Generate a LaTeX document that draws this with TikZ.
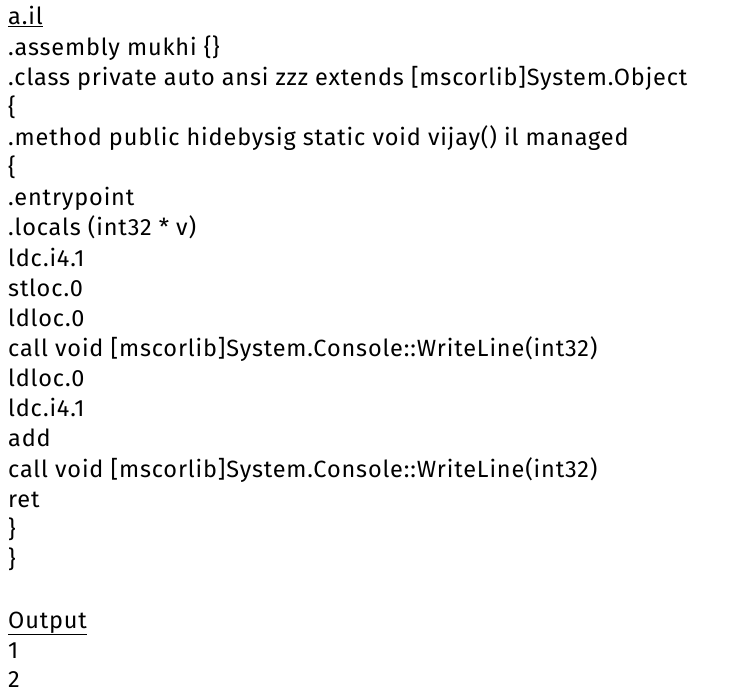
\documentclass[tikz,border=0pt]{standalone}
\usepackage{fontspec}
\newfontfamily\codefont[LetterSpace=3.6]{Fira Sans}
\tikzset{codeline/.style={anchor=base west, inner sep=0pt, font=\codefont\fontsize{23.5}{28}\selectfont}}

\begin{document}
\begin{tikzpicture}[x=1pt,y=1pt]
\useasboundingbox (0,0) rectangle (739,-692);

\node (L-1) at (8,-25) [codeline]{\underline{a.il}};
\node (L-2) at (8,-55.14) [codeline]{.assembly mukhi \{\}};
\node (L-3) at (8,-85.28) [codeline]{.class private auto ansi zzz extends [mscorlib]System.Object};
\node (L-4) at (8,-115.42) [codeline]{\{};
\node (L-5) at (8,-145.56) [codeline]{.method public hidebysig static void vijay() il managed};
\node (L-6) at (8,-175.7) [codeline]{\{};
\node (L-7) at (8,-205.84) [codeline]{.entrypoint};
\node (L-8) at (8,-235.98) [codeline]{.locals (int32 * v)};
\node (L-9) at (8,-266.12) [codeline]{ldc.i4.1};
\node (L-10) at (8,-296.26) [codeline]{stloc.0};
\node (L-11) at (8,-326.4) [codeline]{ldloc.0};
\node (L-12) at (8,-356.54) [codeline]{call void [mscorlib]System.Console::WriteLine(int32)};
\node (L-13) at (8,-386.68) [codeline]{ldloc.0};
\node (L-14) at (8,-416.82) [codeline]{ldc.i4.1};
\node (L-15) at (8,-446.96) [codeline]{add};
\node (L-16) at (8,-477.1) [codeline]{call void [mscorlib]System.Console::WriteLine(int32)};
\node (L-17) at (8,-507.24) [codeline]{ret};
\node (L-18) at (8,-537.38) [codeline]{\}};
\node (L-19) at (8,-567.52) [codeline]{\}};

\node (O-1) at (8,-628) [codeline]{\underline{Output}};
\node (O-2) at (8,-658) [codeline]{1};
\node (O-3) at (8,-687) [codeline]{2};

\end{tikzpicture}
\end{document}
